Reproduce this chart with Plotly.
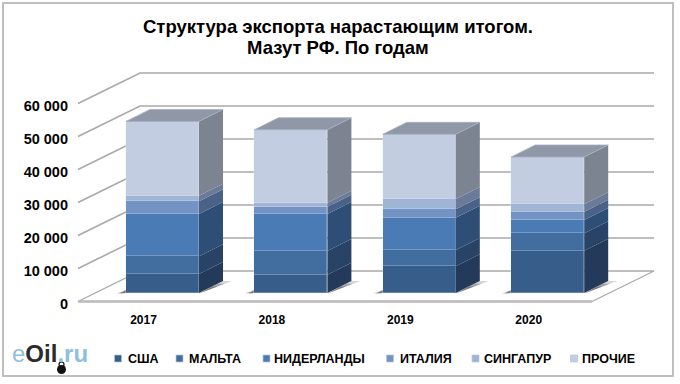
import plotly.graph_objects as go

# ---------- data ----------
years = ["2017", "2018", "2019", "2020"]
series_names = ["США", "МАЛЬТА", "НИДЕРЛАНДЫ", "ИТАЛИЯ", "СИНГАПУР", "ПРОЧИЕ"]
usa = [5760, 5550, 8080, 12830]
malta = [5350, 7170, 4950, 5250]
netherlands = [12830, 11210, 9800, 4040]
italy = [3840, 2220, 2530, 2530]
singapore = [1720, 1210, 3130, 2220]
others = [22500, 22100, 19600, 14340]
series_values = [usa, malta, netherlands, italy, singapore, others]
tick_values = [0, 10000, 20000, 30000, 40000, 50000, 60000]
tick_labels = ["0", "10 000", "20 000", "30 000", "40 000", "50 000", "60 000"]

front_colors = ["#375D8A", "#426D9F", "#4A7BB5", "#7393C4", "#A0B4D6", "#C2CDE2"]
side_colors = ["#243A5A", "#284365", "#2E4E75", "#4A6288", "#6A7A98", "#7C8391"]
top_color = "#9098A8"
grid_color = "#A9A9A9"
floor_color = "#BDBDBD"

# ---------- geometry ----------
W, H = 680, 384
L, R, T, B = 70, 660, 60, 305          # plot-area edges in pixels
X0, X_STEP = 143.5, 128.4              # pixel of category 0, pixels per category
Y0, Y_STEP = 301.5, 33.0 / 10000       # pixel of value 0 on front plane, pixels per unit
BAR_LIFT = 8.5                         # bars stand this many pixels behind the front edge


def x_u(px):
    return (px - X0) / X_STEP


def y_u(py):
    return (Y0 - py) / Y_STEP


def px_paper(px):
    return (px - L) / (R - L)


def py_paper(py):
    return (B - py) / (B - T)


lift_v = BAR_LIFT / Y_STEP
wall_dx = 62 / X_STEP
wall_dv = 30.5 / Y_STEP
bar_shift = 19 / X_STEP
bar_w = 73 / X_STEP
bar_dx = 24 / X_STEP
bar_dv = 12 / Y_STEP
floor_len = 514 / X_STEP
left_x = x_u(78)

fig = go.Figure()

# back wall grid lines with left-side diagonals
gx, gy = [], []
for v in tick_values[1:]:
    gx += [left_x, left_x + wall_dx, left_x + wall_dx + floor_len, None]
    gy += [v, v + wall_dv, v + wall_dv, None]
fig.add_trace(go.Scatter(x=gx, y=gy, mode="lines", line=dict(color=grid_color, width=1.6),
                         hoverinfo="skip", showlegend=False))
# floor
fx = [left_x + floor_len, left_x + floor_len + wall_dx, left_x + wall_dx, left_x, left_x + floor_len]
fy = [0, wall_dv, wall_dv, 0, 0]
fig.add_trace(go.Scatter(x=fx, y=fy, mode="lines", fill="toself", fillcolor="white",
                         line=dict(color=grid_color, width=1.3), hoverinfo="skip", showlegend=False))
fig.add_trace(go.Scatter(x=[left_x, left_x + floor_len], y=[0, 0], mode="lines",
                         line=dict(color=floor_color, width=2.6), hoverinfo="skip", showlegend=False))

# bar shadows on the floor
for scale, op in [(1.0, 0.22), (0.78, 0.35), (0.55, 0.45)]:
    sx, sy = [], []
    for i in range(len(years)):
        c = i + bar_shift
        l, r = c - bar_w / 2, c + bar_w / 2
        sx += [r, r + bar_dx * 1.0 * scale + 9 / X_STEP * scale, r + bar_dx * scale, r, None,
               l, l - 10 / X_STEP * scale, l, None]
        sy += [lift_v - 0.5 / Y_STEP, lift_v + bar_dv * scale, lift_v + bar_dv * scale, lift_v - 0.5 / Y_STEP, None,
               lift_v, lift_v - 0.6 / Y_STEP, lift_v + 3 / Y_STEP, None]
    fig.add_trace(go.Scatter(x=sx, y=sy, mode="lines", fill="toself", line=dict(width=0),
                             fillcolor=f"rgba(70,70,70,{op})", hoverinfo="skip", showlegend=False))

# axis-holder trace for the front-plane tick labels
fig.add_trace(go.Scatter(x=[0, 1, 2, 3], y=[0, 0, 0, 0], mode="markers", marker=dict(opacity=0),
                         hoverinfo="skip", showlegend=False))

# front faces of the stacked bars
bar_centres = [i + bar_shift for i in range(len(years))]
for name, vals, col in zip(series_names, series_values, front_colors):
    fig.add_trace(go.Bar(x=bar_centres, y=vals, width=bar_w, name=name, yaxis="y2", showlegend=False,
                         marker=dict(color=col, line=dict(color="rgba(225,232,245,0.28)", width=1))))

# side faces
base = [0] * len(years)
for vals, col in zip(series_values, side_colors):
    sx, sy = [], []
    for i, v in enumerate(vals):
        r = bar_centres[i] + bar_w / 2
        a, b = base[i], base[i] + v
        sx += [r, r + bar_dx, r + bar_dx, r, r, None]
        sy += [a, a + bar_dv, b + bar_dv, b, a, None]
        base[i] = b
    fig.add_trace(go.Scatter(x=sx, y=sy, yaxis="y2", mode="lines", fill="toself", fillcolor=col,
                             line=dict(width=0), hoverinfo="skip", showlegend=False))

# top faces
tx, ty = [], []
for i, t in enumerate(base):
    l, r = bar_centres[i] - bar_w / 2, bar_centres[i] + bar_w / 2
    tx += [l, r, r + bar_dx, l + bar_dx, l, None]
    ty += [t, t, t + bar_dv, t + bar_dv, t, None]
fig.add_trace(go.Scatter(x=tx, y=ty, yaxis="y2", mode="lines", fill="toself", fillcolor=top_color,
                         line=dict(color="#A6AFC2", width=0.8), hoverinfo="skip", showlegend=False))

# ---------- legend, frame, logo ----------
FONT = "Liberation Sans, Arial, sans-serif"
shapes = [dict(type="rect", xref="paper", yref="paper",
               x0=px_paper(3), x1=px_paper(673), y0=py_paper(376), y1=py_paper(3),
               line=dict(color="#BFBFBF", width=2), fillcolor="rgba(0,0,0,0)", layer="below")]
annotations = []
swatch_px = [114.5, 176, 263, 386.5, 472, 570.5]
text_px = [126, 186.5, 272, 398, 482, 579.5]
LEG_Y = 358.5
for name, col, sx, tx_ in zip(series_names, front_colors, swatch_px, text_px):
    shapes.append(dict(type="rect", xref="paper", yref="paper",
                       x0=px_paper(sx), x1=px_paper(sx + 7), y0=py_paper(LEG_Y + 3.5), y1=py_paper(LEG_Y - 3.5),
                       fillcolor=col, line=dict(color="#B8C4D8", width=0.7)))
    annotations.append(dict(text=f"<b>{name}</b>", xref="paper", yref="paper", x=px_paper(tx_), y=py_paper(LEG_Y),
                            xanchor="left", yanchor="middle", showarrow=False,
                            font=dict(family=FONT, size=12.5, color="#000000")))

annotations.append(dict(
    text='<span style="color:#8FBEDF">e</span><span style="color:#2B2B2B"><b>Oil</b></span>'
         '<span style="color:#8FBEDF"><b>.ru</b></span>',
    xref="paper", yref="paper", x=px_paper(10), y=py_paper(353.5), xanchor="left", yanchor="middle",
    showarrow=False, font=dict(family=FONT, size=24)))
annotations.append(dict(text="<b>Мазут РФ. По годам</b>", xref="paper", yref="paper",
                        x=px_paper(338), y=py_paper(47), xanchor="center", yanchor="middle", showarrow=False,
                        font=dict(family=FONT, size=18.5, color="#000000")))
shapes.append(dict(type="circle", xref="paper", yref="paper", x0=px_paper(57), x1=px_paper(66),
                   y0=py_paper(374), y1=py_paper(365), fillcolor="#111111", line=dict(width=0)))
shapes.append(dict(type="circle", xref="paper", yref="paper", x0=px_paper(59), x1=px_paper(64),
                   y0=py_paper(367), y1=py_paper(362), fillcolor="rgba(0,0,0,0)", line=dict(color="#111111", width=1.2)))

fig.update_layout(
    width=W, height=H, autosize=False,
    paper_bgcolor="white", plot_bgcolor="white",
    margin=dict(l=L, r=W - R, t=T, b=H - B, pad=0),
    barmode="stack", bargap=0,
    showlegend=False,
    font=dict(family=FONT, color="#000000"),
    title=dict(text="<b>Структура экспорта нарастающим итогом.</b>",
               x=338 / W, xanchor="center", y=1 - 27 / H, yanchor="middle",
               font=dict(family=FONT, size=18.5, color="#000000")),
    xaxis=dict(range=[x_u(L), x_u(R)], tickmode="array", tickvals=[0, 1, 2, 3],
               ticktext=[f"<b>{y}</b>" for y in years],
               showgrid=False, zeroline=False, showline=False, ticks="",
               tickfont=dict(family=FONT, size=12, color="#000000"), ticklabelstandoff=6),
    yaxis=dict(range=[y_u(B), y_u(T)], tickmode="array", tickvals=tick_values,
               ticktext=[f"<b>{t}</b>" for t in tick_labels],
               showgrid=False, zeroline=False, showline=False, ticks="",
               ticklabelstandoff=1, ticklabelshift=2,
               tickfont=dict(family=FONT, size=14.5, color="#000000")),
    yaxis2=dict(range=[y_u(B) - lift_v, y_u(T) - lift_v], overlaying="y", side="left", visible=False),
    shapes=shapes, annotations=annotations,
)

fig.write_html("out.html", config=dict(displayModeBar=False),
               post_script="document.body.style.margin='0';document.body.style.overflow='hidden';")
